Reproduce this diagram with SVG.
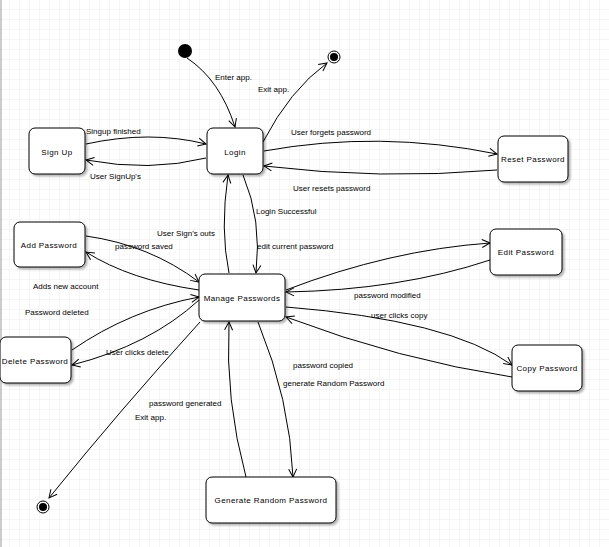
<svg xmlns="http://www.w3.org/2000/svg" width="609" height="547" viewBox="0 0 609 547">
<defs>
<pattern id="g" width="10" height="10" patternUnits="userSpaceOnUse"><path d="M10 0V10H0" fill="none" stroke="#ececec" stroke-width="1"/></pattern>
<marker id="a" markerWidth="10" markerHeight="10" refX="9" refY="5" orient="auto" markerUnits="userSpaceOnUse"><path d="M1 1L9 5L1 9" fill="none" stroke="#000" stroke-width="1"/></marker>
<filter id="s" x="-10%" y="-10%" width="130%" height="130%"><feDropShadow dx="2" dy="2" stdDeviation="1.2" flood-color="#000" flood-opacity="0.3"/></filter>
</defs>
<style>
.n rect{fill:#fff;stroke:#000;stroke-width:1;filter:url(#s)}
.n text{font-family:"Liberation Sans",Arial,sans-serif;font-size:8px;text-anchor:middle;letter-spacing:0.4px}
.e path{fill:none;stroke:#000;stroke-width:1;marker-end:url(#a)}
.l{font-family:"Liberation Sans",Arial,sans-serif;font-size:8px}
</style>
<rect width="609" height="547" fill="#fff"/>
<rect width="609" height="547" fill="url(#g)"/>
<line x1="1" y1="0" x2="1" y2="547" stroke="#999"/>
<g class="e">
<path d="M187 58Q220 80 235 127"/>
<path d="M263 142Q290 90 327 63"/>
<path d="M86 144Q150 130 206 144"/>
<path d="M206 158Q150 172 86 160"/>
<path d="M264 151Q380 130 497 154"/>
<path d="M497 170Q380 180 264 166"/>
<path d="M229 273Q220 230 228 175"/>
<path d="M243 175Q262 220 256 273"/>
<path d="M86 236Q150 245 199 282"/>
<path d="M199 290Q130 280 86 252"/>
<path d="M72 350Q130 310 199 297"/>
<path d="M199 300Q150 345 72 365"/>
<path d="M286 290Q390 250 490 243"/>
<path d="M490 260Q400 290 286 292"/>
<path d="M286 307Q450 320 512 365"/>
<path d="M512 377Q400 360 286 317"/>
<path d="M258 322Q290 400 293 477"/>
<path d="M246 477Q225 400 229 322"/>
<path d="M200 322Q120 410 49 498"/>
</g>
<g class="l">
<text x="215" y="80">Enter app.</text>
<text x="258" y="92">Exit app.</text>
<text x="86" y="134">Singup finished</text>
<text x="90" y="179">User SignUp's</text>
<text x="291" y="135">User forgets password</text>
<text x="293" y="191">User resets password</text>
<text x="157" y="236">User Sign's outs</text>
<text x="256" y="214">Login Successful</text>
<text x="257" y="249">edit current password</text>
<text x="115" y="249">password saved</text>
<text x="33" y="289">Adds new account</text>
<text x="25" y="315">Password deleted</text>
<text x="106" y="355">User clicks delete</text>
<text x="354" y="298">password modified</text>
<text x="371" y="318">user clicks copy</text>
<text x="293" y="368">password copied</text>
<text x="283" y="386">generate Random Password</text>
<text x="149" y="406">password generated</text>
<text x="135" y="420">Exit app.</text>
</g>
<g id="start"><circle cx="185" cy="51" r="7" fill="#000"/></g>
<g id="end1"><circle cx="334" cy="57" r="6" fill="#fff" stroke="#000"/><circle cx="334" cy="57" r="4" fill="#000"/></g>
<g id="end2"><circle cx="43" cy="507" r="6" fill="#fff" stroke="#000"/><circle cx="43" cy="507" r="4" fill="#000"/></g>
<g id="signup" class="n"><rect x="29" y="128" width="56" height="46" rx="6"/><text x="57" y="155">Sign Up</text></g>
<g id="login" class="n"><rect x="207" y="128" width="56" height="46" rx="6"/><text x="235" y="155">Login</text></g>
<g id="reset" class="n"><rect x="498" y="136" width="70" height="46" rx="6"/><text x="533" y="162">Reset Password</text></g>
<g id="add" class="n"><rect x="14" y="222" width="71" height="45" rx="6"/><text x="49" y="248">Add Password</text></g>
<g id="manage" class="n"><rect x="199" y="274" width="86" height="47" rx="6"/><text x="242" y="301">Manage Passwords</text></g>
<g id="edit" class="n"><rect x="490" y="229" width="72" height="46" rx="6"/><text x="526" y="255">Edit Password</text></g>
<g id="delete" class="n"><rect x="0" y="337" width="71" height="46" rx="6"/><text x="35" y="364">Delete Password</text></g>
<g id="copy" class="n"><rect x="512" y="345" width="70" height="46" rx="6"/><text x="547" y="371">Copy Password</text></g>
<g id="generate" class="n"><rect x="206" y="477" width="130" height="46" rx="6"/><text x="271" y="503">Generate Random Password</text></g>
</svg>
